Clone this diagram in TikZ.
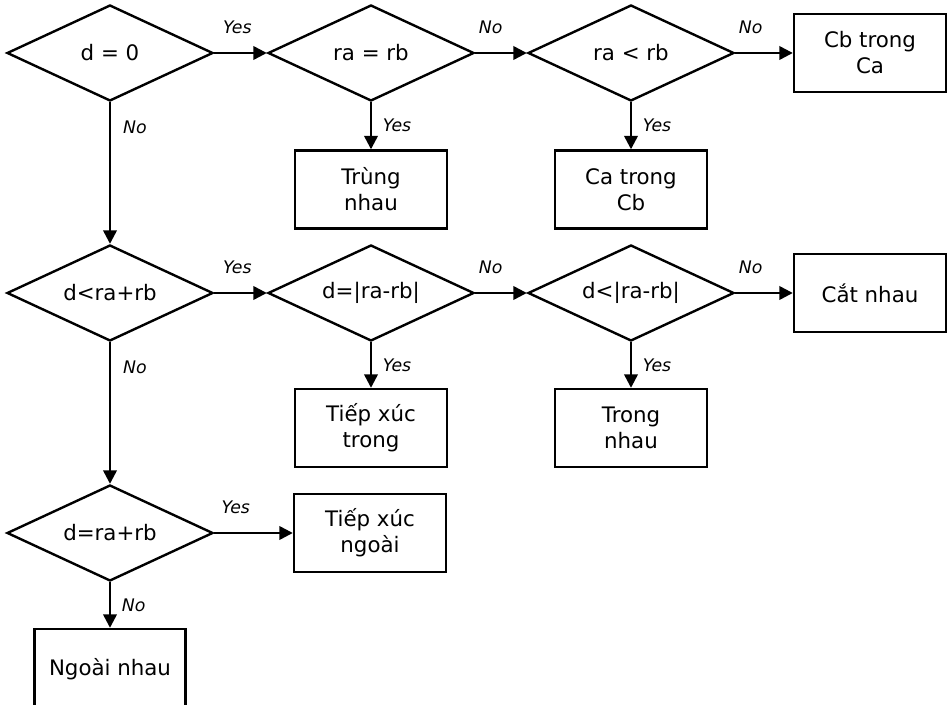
\documentclass[tikz,border=0pt]{standalone}
\usepackage{fontspec}
\setmainfont{DejaVu Sans}
\usetikzlibrary{arrows.meta,shapes.geometric}
\tikzset{
  test/.style={draw, line width=1.8pt, diamond, aspect=2.15, inner sep=0pt, minimum width=154.5pt, minimum height=72pt, font=\fontsize{16pt}{19.5pt}\selectfont},
  outbox/.style={draw, line width=1.8pt, rectangle, align=center, inner sep=0pt, minimum width=114pt, minimum height=58.5pt, font=\fontsize{16pt}{19.5pt}\selectfont},
  arr/.style={line width=1.8pt, -{Triangle[length=10pt,width=10pt]}},
  lbl/.style={inner sep=0pt, font=\fontsize{13pt}{15pt}\selectfont\itshape}
}

\begin{document}
\begin{tikzpicture}[x=0.75pt,y=-0.75pt]
\useasboundingbox (0,0) rectangle (947,705);
\node[test] (dz) at (110,53) {d = 0};
\node[test] (req) at (371,53) {ra = rb};
\node[test] (rlt) at (631,53) {ra < rb};
\node[outbox] (cbca) at (870,53) {Cb trong\\Ca};
\node[outbox] (trung) at (371,189.5) {Trùng\\nhau};
\node[outbox] (cacb) at (631,189.5) {Ca trong\\Cb};

\node[test] (dlt) at (110,293) {d<ra+rb};
\node[test] (deqa) at (371,293) {d=|ra-rb|};
\node[test] (dlta) at (631,293) {d<|ra-rb|};
\node[outbox] (cat) at (870,293) {Cắt nhau};
\node[outbox] (txtrong) at (371,428) {Tiếp xúc\\trong};
\node[outbox] (trong) at (631,428) {Trong\\nhau};

\node[test] (deq) at (110,533) {d=ra+rb};
\node[outbox] (txngoai) at (370,533) {Tiếp xúc\\ngoài};
\node[outbox, minimum width=113pt, minimum height=60pt] (ngoai) at (110,669) {Ngoài nhau};

\draw[arr] (dz) -- node[lbl, pos=0.44, above=13.5pt] {Yes} (req);
\draw[arr] (req) -- node[lbl, pos=0.3, above=13.5pt] {No} (rlt);
\draw[arr] (rlt) -- node[lbl, pos=0.27, above=13.5pt] {No} (cbca);
\draw[arr] (req) -- node[lbl, right=8pt] {Yes} (trung);
\draw[arr] (rlt) -- node[lbl, right=8pt] {Yes} (cacb);
\draw[arr] (dz) -- node[lbl, pos=0.18, right=9pt] {No} (dlt);

\draw[arr] (dlt) -- node[lbl, pos=0.44, above=13.5pt] {Yes} (deqa);
\draw[arr] (deqa) -- node[lbl, pos=0.3, above=13.5pt] {No} (dlta);
\draw[arr] (dlta) -- node[lbl, pos=0.27, above=13.5pt] {No} (cat);
\draw[arr] (deqa) -- node[lbl, right=8pt] {Yes} (txtrong);
\draw[arr] (dlta) -- node[lbl, right=8pt] {Yes} (trong);
\draw[arr] (dlt) -- node[lbl, pos=0.18, right=9pt] {No} (deq);

\draw[arr] (deq) -- node[lbl, pos=0.275, above=13.5pt] {Yes} (txngoai);
\draw[arr] (deq) -- node[lbl, right=8pt] {No} (ngoai);
\end{tikzpicture}
\end{document}
